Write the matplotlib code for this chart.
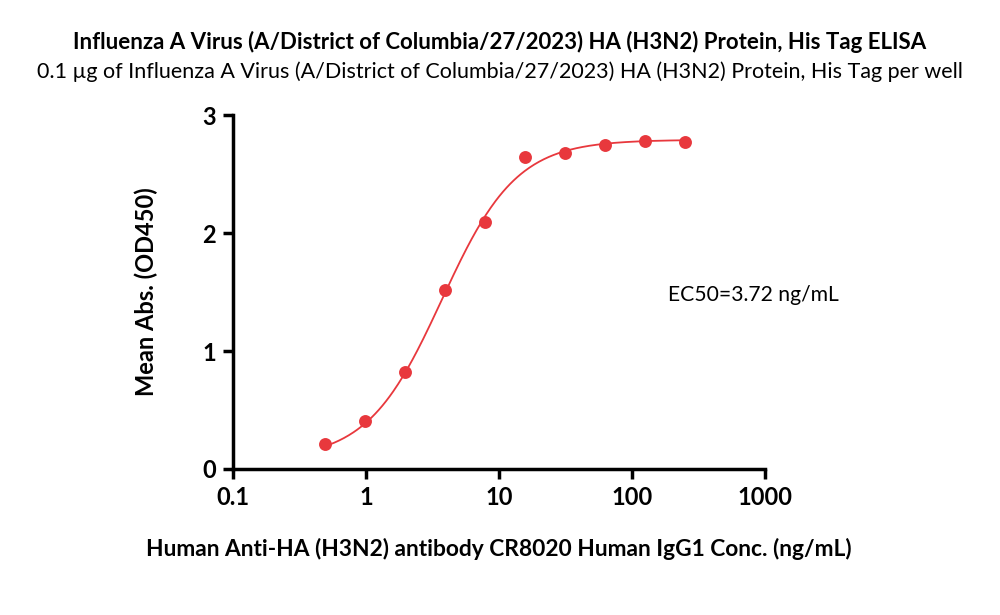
import numpy as np
import matplotlib
matplotlib.use("Agg")
import matplotlib.pyplot as plt
from matplotlib.ticker import NullLocator

# measured points (ng/mL, OD450)
conc = [0.488, 0.977, 1.95, 3.9, 7.8, 15.6, 31.25, 62.5, 125, 250]
od450 = [0.21, 0.405, 0.82, 1.52, 2.09, 2.64, 2.675, 2.745, 2.78, 2.77]

# 4PL fit parameters
bottom, top, ec50, hill = 0.08, 2.79, 3.72, 1.55

title = "Influenza A Virus (A/District of Columbia/27/2023) HA (H3N2) Protein, His Tag ELISA"
subtitle = "0.1 \u00b5g of Influenza A Virus (A/District of Columbia/27/2023) HA (H3N2) Protein, His Tag per well"
xlabel = "Human Anti-HA (H3N2) antibody CR8020 Human IgG1 Conc. (ng/mL)"
ylabel = "Mean Abs. (OD450)"
xticks = [0.1, 1, 10, 100, 1000]
xtick_labels = ["0.1", "1", "10", "100", "1000"]
yticks = [0, 1, 2, 3]

plt.rcParams['font.family'] = ['Lato', 'DejaVu Sans']
red = "#e8383d"

fig = plt.figure(figsize=(10, 6.15), dpi=100)
ax = fig.add_axes([0.233, 0.2374, 0.532, 0.5756])

xs = np.logspace(np.log10(conc[0]), np.log10(conc[-1]), 300)
ys = bottom + (top - bottom) / (1 + (ec50 / xs) ** hill)
ax.plot(xs, ys, color=red, lw=1.3)
ax.plot(conc, od450, 'o', color=red, markersize=9.3, markeredgewidth=0)

ax.set_xscale('log')
ax.set_xlim(0.1, 1000)
ax.set_ylim(0, 3)
ax.set_xticks(xticks)
ax.set_xticklabels(xtick_labels)
ax.xaxis.set_minor_locator(NullLocator())
ax.set_yticks(yticks)

for s in ['top', 'right']:
    ax.spines[s].set_visible(False)
for s in ['left', 'bottom']:
    ax.spines[s].set_linewidth(2.5)
ax.tick_params(width=2.5, length=7, labelsize=17, pad=5)
for lab in ax.get_xticklabels() + ax.get_yticklabels():
    lab.set_fontweight('bold')

ax.set_xlabel(xlabel, fontsize=16.4, fontweight='bold', labelpad=21)
ax.set_ylabel(ylabel, fontsize=17, fontweight='bold', labelpad=32)

fig.text(0.5, 0.932, title, ha='center', va='center', fontsize=16, fontweight='bold')
fig.text(0.5, 0.883, subtitle, ha='center', va='center', fontsize=15.5)
ax.text(0.668, 0.52, "EC50=3.72 ng/mL", transform=fig.transFigure, ha='left', va='center', fontsize=15.2)

fig.savefig("out.png", dpi=100)
